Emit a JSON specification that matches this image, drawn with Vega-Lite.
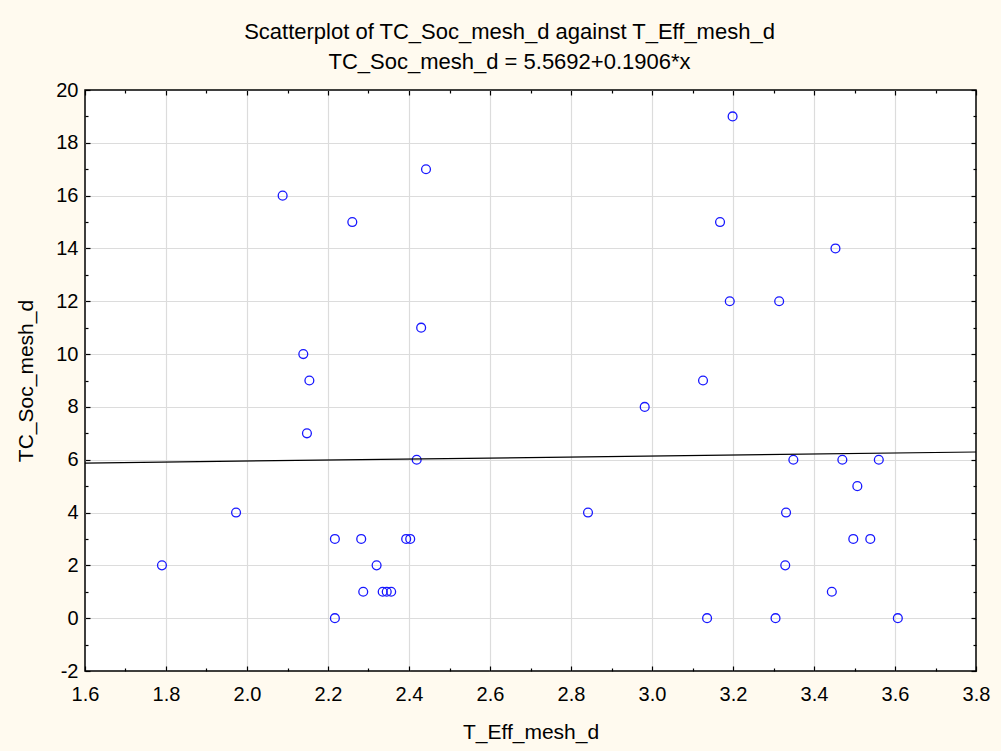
{
  "$schema": "https://vega.github.io/schema/vega-lite/v6.json",
  "width": 891,
  "height": 581,
  "autosize": {"type": "none"},
  "padding": {"left": 85, "top": 90, "right": 25, "bottom": 80},
  "background": "#FFFAEF",
  "config": {
    "view": {"fill": "white", "stroke": "black", "strokeWidth": 1.5},
    "font": "Liberation Sans"
  },
  "title": {
    "text": ["Scatterplot of TC_Soc_mesh_d against T_Eff_mesh_d", "TC_Soc_mesh_d = 5.5692+0.1906*x"],
    "font": "Liberation Sans",
    "fontSize": 22,
    "fontWeight": "normal",
    "color": "black",
    "lineHeight": 30,
    "anchor": "middle",
    "dx": -21,
    "offset": 6
  },
  "datasets": {
    "points": [
      {"T_Eff_mesh_d": 2.088, "TC_Soc_mesh_d": 16},
      {"T_Eff_mesh_d": 2.442, "TC_Soc_mesh_d": 17},
      {"T_Eff_mesh_d": 2.260, "TC_Soc_mesh_d": 15},
      {"T_Eff_mesh_d": 2.430, "TC_Soc_mesh_d": 11},
      {"T_Eff_mesh_d": 2.139, "TC_Soc_mesh_d": 10},
      {"T_Eff_mesh_d": 2.154, "TC_Soc_mesh_d": 9},
      {"T_Eff_mesh_d": 2.148, "TC_Soc_mesh_d": 7},
      {"T_Eff_mesh_d": 2.419, "TC_Soc_mesh_d": 6},
      {"T_Eff_mesh_d": 1.973, "TC_Soc_mesh_d": 4},
      {"T_Eff_mesh_d": 1.790, "TC_Soc_mesh_d": 2},
      {"T_Eff_mesh_d": 2.217, "TC_Soc_mesh_d": 3},
      {"T_Eff_mesh_d": 2.282, "TC_Soc_mesh_d": 3},
      {"T_Eff_mesh_d": 2.393, "TC_Soc_mesh_d": 3},
      {"T_Eff_mesh_d": 2.403, "TC_Soc_mesh_d": 3},
      {"T_Eff_mesh_d": 2.320, "TC_Soc_mesh_d": 2},
      {"T_Eff_mesh_d": 2.287, "TC_Soc_mesh_d": 1},
      {"T_Eff_mesh_d": 2.335, "TC_Soc_mesh_d": 1},
      {"T_Eff_mesh_d": 2.345, "TC_Soc_mesh_d": 1},
      {"T_Eff_mesh_d": 2.356, "TC_Soc_mesh_d": 1},
      {"T_Eff_mesh_d": 2.217, "TC_Soc_mesh_d": 0},
      {"T_Eff_mesh_d": 3.199, "TC_Soc_mesh_d": 19},
      {"T_Eff_mesh_d": 3.168, "TC_Soc_mesh_d": 15},
      {"T_Eff_mesh_d": 3.453, "TC_Soc_mesh_d": 14},
      {"T_Eff_mesh_d": 3.192, "TC_Soc_mesh_d": 12},
      {"T_Eff_mesh_d": 3.314, "TC_Soc_mesh_d": 12},
      {"T_Eff_mesh_d": 3.126, "TC_Soc_mesh_d": 9},
      {"T_Eff_mesh_d": 2.982, "TC_Soc_mesh_d": 8},
      {"T_Eff_mesh_d": 3.349, "TC_Soc_mesh_d": 6},
      {"T_Eff_mesh_d": 3.470, "TC_Soc_mesh_d": 6},
      {"T_Eff_mesh_d": 3.560, "TC_Soc_mesh_d": 6},
      {"T_Eff_mesh_d": 3.507, "TC_Soc_mesh_d": 5},
      {"T_Eff_mesh_d": 2.842, "TC_Soc_mesh_d": 4},
      {"T_Eff_mesh_d": 3.331, "TC_Soc_mesh_d": 4},
      {"T_Eff_mesh_d": 3.497, "TC_Soc_mesh_d": 3},
      {"T_Eff_mesh_d": 3.539, "TC_Soc_mesh_d": 3},
      {"T_Eff_mesh_d": 3.329, "TC_Soc_mesh_d": 2},
      {"T_Eff_mesh_d": 3.444, "TC_Soc_mesh_d": 1},
      {"T_Eff_mesh_d": 3.136, "TC_Soc_mesh_d": 0},
      {"T_Eff_mesh_d": 3.305, "TC_Soc_mesh_d": 0},
      {"T_Eff_mesh_d": 3.607, "TC_Soc_mesh_d": 0}
    ],
    "fit": [
      {"T_Eff_mesh_d": 1.6, "TC_Soc_mesh_d": 5.874},
      {"T_Eff_mesh_d": 3.8, "TC_Soc_mesh_d": 6.293}
    ]
  },
  "resolve": {"axis": {"x": "independent", "y": "independent"}},
  "layer": [
    {
      "data": {"name": "points"},
      "mark": {"type": "point", "filled": false, "color": "#1818FF", "size": 78, "strokeWidth": 1.3, "opacity": 1},
      "encoding": {
        "x": {
          "field": "T_Eff_mesh_d", "type": "quantitative",
          "scale": {"domain": [1.6, 3.8], "nice": false, "zero": false},
          "axis": {
            "orient": "bottom",
            "values": [1.6, 1.7, 1.8, 1.9, 2.0, 2.1, 2.2, 2.3, 2.4, 2.5, 2.6, 2.7, 2.8, 2.9, 3.0, 3.1, 3.2, 3.3, 3.4, 3.5, 3.6, 3.7, 3.8],
            "labelExpr": "round(datum.value*10)%2==0 ? format(datum.value,'.1f') : ''",
            "grid": true,
            "gridColor": "#DCDCDC",
            "gridWidth": 1.2,
            "gridOpacity": {"condition": {"test": "round(datum.value*10)%2==0 && datum.value>1.65 && datum.value<3.75", "value": 1}, "value": 0},
            "tickSize": {"condition": {"test": "round(datum.value*10)%2==0", "value": -5}, "value": -3},
            "tickColor": "black",
            "tickWidth": 1.2,
            "domain": false,
            "labelFont": "Liberation Sans",
            "labelFontSize": 20,
            "labelColor": "black",
            "labelPadding": 18,
            "labelFlush": false,
            "labelOverlap": false,
            "title": "T_Eff_mesh_d",
            "titleFont": "Liberation Sans",
            "titleFontSize": 21,
            "titleFontWeight": "normal",
            "titleColor": "black",
            "titlePadding": 15
          }
        },
        "y": {
          "field": "TC_Soc_mesh_d", "type": "quantitative",
          "scale": {"domain": [-2, 20], "nice": false, "zero": false},
          "axis": {
            "orient": "left",
            "values": [-2, -1, 0, 1, 2, 3, 4, 5, 6, 7, 8, 9, 10, 11, 12, 13, 14, 15, 16, 17, 18, 19, 20],
            "labelExpr": "datum.value%2==0 ? ('' + datum.value) : ''",
            "grid": true,
            "gridColor": "#DCDCDC",
            "gridWidth": 1.2,
            "gridOpacity": {"condition": {"test": "datum.value%2==0 && datum.value>-1.5 && datum.value<19.5", "value": 1}, "value": 0},
            "tickSize": {"condition": {"test": "datum.value%2==0", "value": -5}, "value": -3},
            "tickColor": "black",
            "tickWidth": 1.2,
            "domain": false,
            "labelFont": "Liberation Sans",
            "labelFontSize": 20,
            "labelColor": "black",
            "labelPadding": 12,
            "labelFlush": false,
            "labelOverlap": false,
            "title": "TC_Soc_mesh_d",
            "titleFont": "Liberation Sans",
            "titleFontSize": 21,
            "titleFontWeight": "normal",
            "titleColor": "black",
            "titlePadding": 19
          }
        }
      }
    },
    {
      "data": {"name": "fit"},
      "mark": {"type": "line", "color": "black", "strokeWidth": 1.2},
      "encoding": {
        "x": {
          "field": "T_Eff_mesh_d", "type": "quantitative",
          "scale": {"domain": [1.6, 3.8], "nice": false, "zero": false},
          "axis": {
            "orient": "top",
            "values": [1.6, 1.7, 1.8, 1.9, 2.0, 2.1, 2.2, 2.3, 2.4, 2.5, 2.6, 2.7, 2.8, 2.9, 3.0, 3.1, 3.2, 3.3, 3.4, 3.5, 3.6, 3.7, 3.8],
            "labels": false,
            "grid": false,
            "domain": false,
            "tickSize": {"condition": {"test": "round(datum.value*10)%2==0", "value": -5}, "value": -3},
            "tickColor": "black",
            "tickWidth": 1.2,
            "title": null
          }
        },
        "y": {
          "field": "TC_Soc_mesh_d", "type": "quantitative",
          "scale": {"domain": [-2, 20], "nice": false, "zero": false},
          "axis": {
            "orient": "right",
            "values": [-2, -1, 0, 1, 2, 3, 4, 5, 6, 7, 8, 9, 10, 11, 12, 13, 14, 15, 16, 17, 18, 19, 20],
            "labels": false,
            "grid": false,
            "domain": false,
            "tickSize": {"condition": {"test": "datum.value%2==0", "value": -5}, "value": -3},
            "tickColor": "black",
            "tickWidth": 1.2,
            "title": null
          }
        }
      }
    }
  ]
}
